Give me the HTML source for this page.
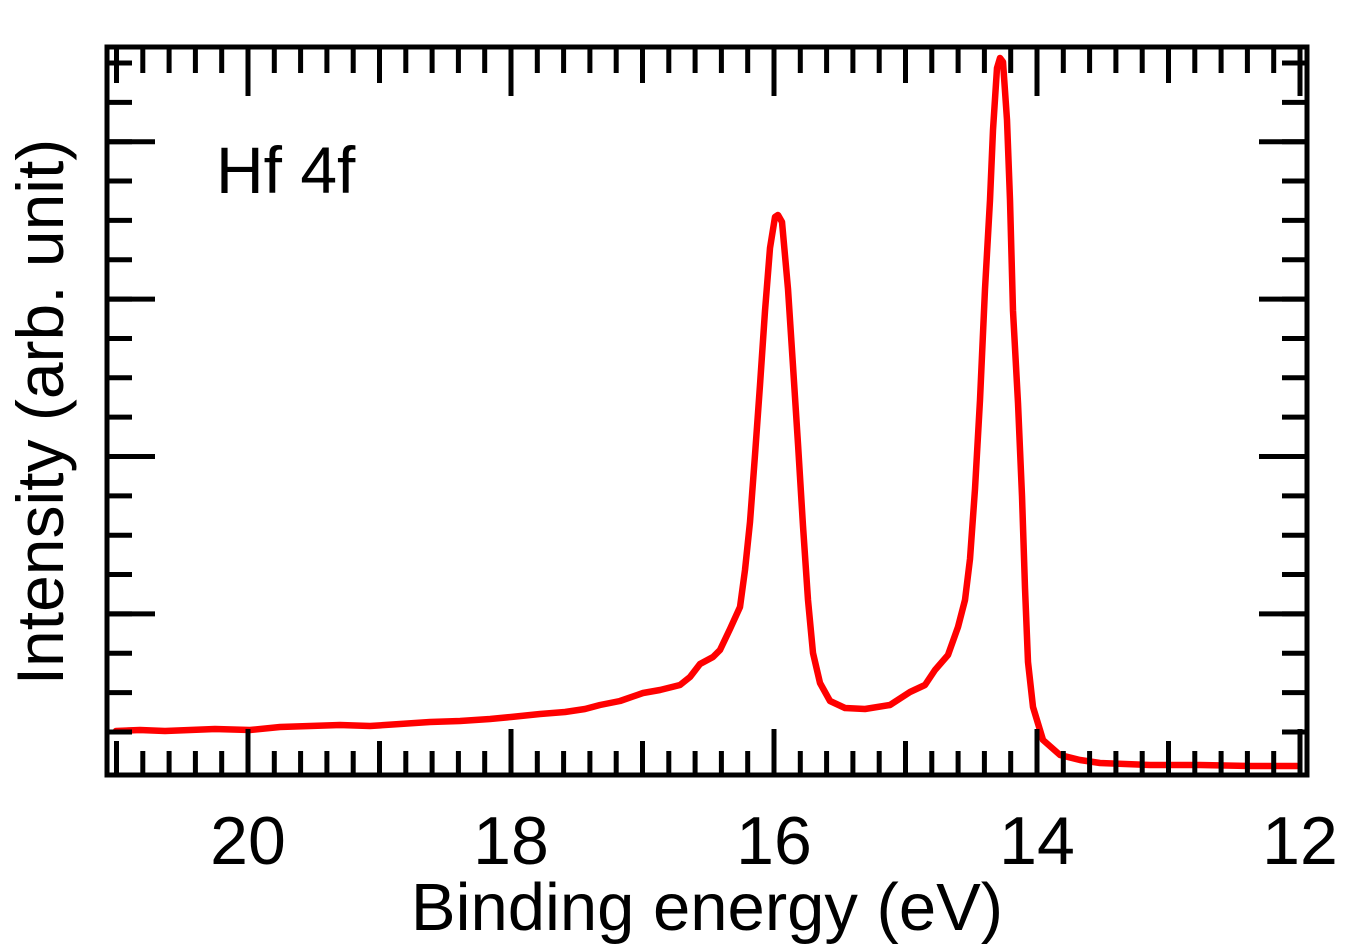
<!DOCTYPE html>
<html><head><meta charset="utf-8"><style>
html,body{margin:0;padding:0;background:#fff;}
svg{display:block;}
text{font-family:"Liberation Sans",sans-serif;fill:#000;}
</style></head><body>
<svg width="1354" height="946" viewBox="0 0 1354 946" xmlns="http://www.w3.org/2000/svg">
<rect x="0" y="0" width="1354" height="946" fill="#fff"/>
<!-- curve -->
<polyline fill="none" stroke="#ff0000" stroke-width="6.5" stroke-linejoin="round" stroke-linecap="round" points="
116,731 140,730 165,731 190,730 215,729 250,730 280,727 310,726 340,725 370,726 400,724 430,722 460,721 490,719 511,717 540,714 565,712 585,709 600,705 620,701 643,693 660,690 680,685 690,677 700,664 713,657 720,650 730,629 740,607 745,570 750,522 755,455 760,385 765,311 770,248 775,217 778,215 782,222 788,289 793,366 798,444 803,526 808,600 813,653 820,683 830,701 845,708 865,709 890,705 910,692 925,685 935,670 948,655 958,627 965,600 970,559 975,489 980,400 985,289 990,200 993,130 997,68 1000,58 1003,62 1007,120 1010,200 1013,311 1018,403 1022,496 1025,588 1028,662 1033,707 1043,740 1060,755 1080,760 1100,763 1150,765 1200,765 1250,766 1297,766"/>
<!-- frame -->
<rect x="107" y="47" width="1200" height="728" fill="none" stroke="#000" stroke-width="5"/>
<!-- top x ticks -->
<line x1="114" y1="61" x2="1305" y2="61" stroke="#000" stroke-width="24" stroke-dasharray="5 21.3"/>
<line x1="114" y1="66" x2="1200" y2="66" stroke="#000" stroke-width="34" stroke-dasharray="5 126.5"/>
<line x1="245.5" y1="72" x2="1305" y2="72" stroke="#000" stroke-width="48" stroke-dasharray="5 258"/>
<!-- bottom x ticks -->
<line x1="114" y1="763" x2="1305" y2="763" stroke="#000" stroke-width="24" stroke-dasharray="5 21.3"/>
<line x1="114" y1="758" x2="1200" y2="758" stroke="#000" stroke-width="34" stroke-dasharray="5 126.5"/>
<line x1="245.5" y1="752" x2="1305" y2="752" stroke="#000" stroke-width="46" stroke-dasharray="5 258"/>
<!-- left y ticks -->
<line x1="119.5" y1="60.5" x2="119.5" y2="740" stroke="#000" stroke-width="25" stroke-dasharray="5 34.35"/>
<line x1="131" y1="139.2" x2="131" y2="620" stroke="#000" stroke-width="48" stroke-dasharray="5 152.4"/>
<!-- right y ticks -->
<line x1="1294.5" y1="60.5" x2="1294.5" y2="740" stroke="#000" stroke-width="25" stroke-dasharray="5 34.35"/>
<line x1="1283" y1="139.2" x2="1283" y2="620" stroke="#000" stroke-width="48" stroke-dasharray="5 152.4"/>
<!-- tick labels -->
<g font-size="68" text-anchor="middle">
<text x="248" y="864">20</text>
<text x="511" y="864">18</text>
<text x="774" y="864">16</text>
<text x="1037" y="864">14</text>
<text x="1300" y="864">12</text>
</g>
<text x="707" y="930" font-size="67" text-anchor="middle">Binding energy (eV)</text>
<text transform="translate(63,412) rotate(-90)" font-size="66" text-anchor="middle">Intensity (arb. unit)</text>
<text x="216" y="193" font-size="66">Hf 4f</text>
</svg>
</body></html>
